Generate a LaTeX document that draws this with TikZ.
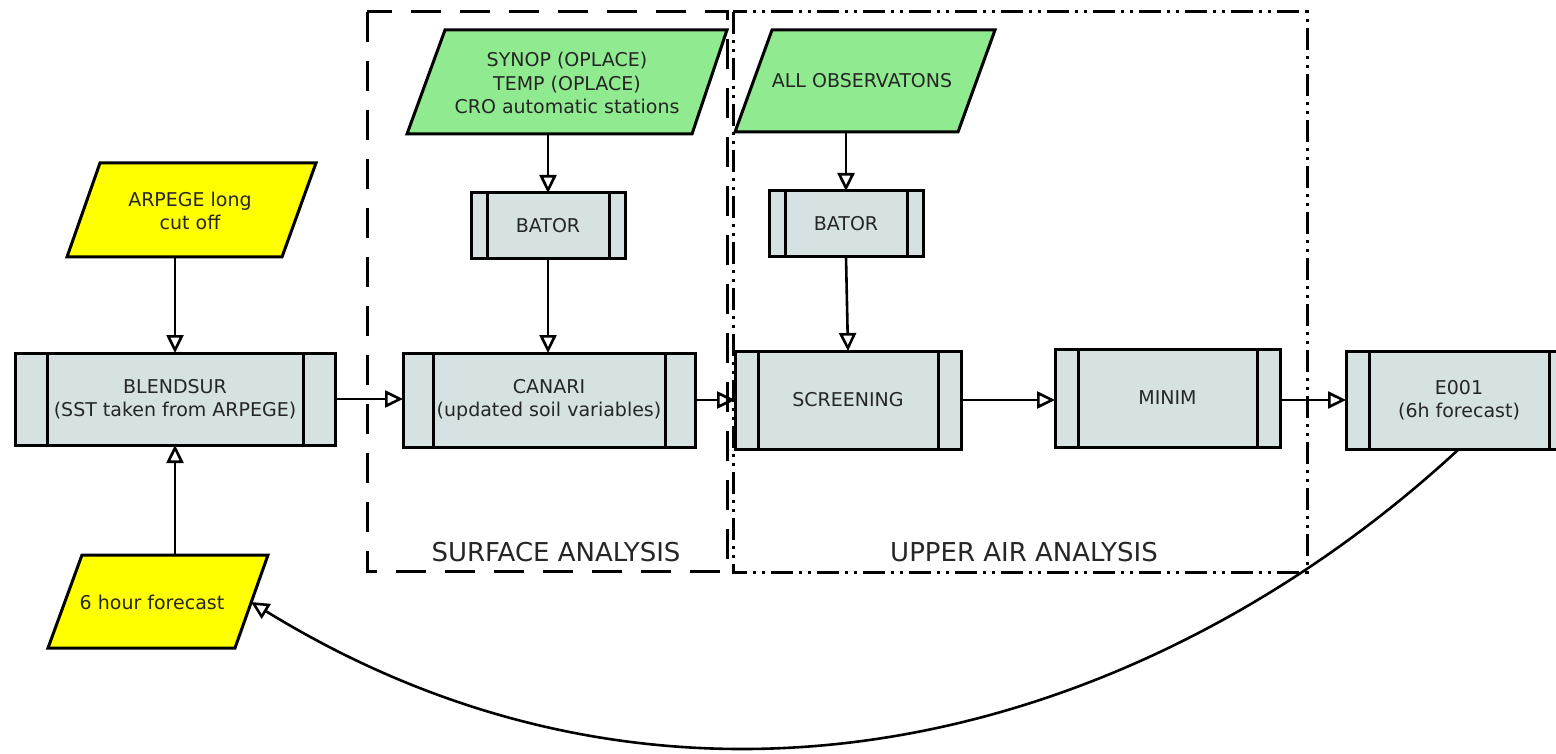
\documentclass[tikz,border=0pt]{standalone}
\usepackage{fontspec}
\setmainfont{DejaVu Sans}
\usetikzlibrary{arrows.meta}
\definecolor{procfill}{RGB}{214,225,225}
\definecolor{grn}{RGB}{144,234,144}
\definecolor{yel}{RGB}{255,255,0}
\definecolor{txtc}{RGB}{38,38,38}
\begin{document}
\begin{tikzpicture}[x=1pt,y=-1pt,
  proc/.style={draw, line width=3pt, fill=procfill, inner sep=0pt, outer sep=0pt,
    text=txtc, font=\fontsize{19}{23.5}\selectfont, align=center},
  iline/.style={line width=3pt},
  para/.style={draw, line width=3pt, line join=miter},
  ptxt/.style={text=txtc, font=\fontsize{19}{23.5}\selectfont, align=center, inner sep=0pt},
  flow/.style={line width=2.6pt, -{Triangle[open, length=18pt, width=17pt, line width=2.6pt]}},
  grplabel/.style={text=txtc, font=\fontsize{26}{30}\selectfont, inner sep=0pt},
  surfbox/.style={line width=3pt, dash pattern=on 30pt off 19pt},
  upperbox/.style={line width=3pt, dash pattern=on 22pt off 6pt on 3pt off 6pt on 3pt off 6pt},
]
\clip (0,0) rectangle (1556,754);
\fill[white] (0,0) rectangle (1556,754);

% group frames
\draw[surfbox] (367,12) rectangle (727,571);
\draw[upperbox] (733,12) rectangle (1307,572);
\node[grplabel] (surflabel) at (556,552) {SURFACE ANALYSIS};
\node[grplabel] (upperlabel) at (1024,552) {UPPER AIR ANALYSIS};

% parallelograms
\filldraw[para, fill=yel] (100,163) -- (316,163) -- (282,257) -- (67,257) -- cycle;
\node[ptxt] (arpege) at (190,211) {ARPEGE long\\ cut off};
\coordinate (arpegeB) at (175,257);

\filldraw[para, fill=yel] (82,555) -- (268,555) -- (235,648) -- (48,648) -- cycle;
\node[ptxt] (fc6) at (152,602) {6 hour forecast};
\coordinate (fc6T) at (175,555);
\coordinate (fc6R) at (251,602);

\filldraw[para, fill=grn] (445,30) -- (727,30) -- (692,134) -- (407,134) -- cycle;
\node[ptxt] (synop) at (567,83) {SYNOP (OPLACE)\\TEMP (OPLACE)\\CRO automatic stations};
\coordinate (synopB) at (548,134);

\filldraw[para, fill=grn] (772,30) -- (995,30) -- (958,132) -- (735,132) -- cycle;
\node[ptxt] (allobs) at (862,81) {ALL OBSERVATONS};
\coordinate (allobsB) at (846,132);

% processes
\node[proc, minimum width=320pt, minimum height=92pt] (blend) at (175,399) {BLENDSUR\\(SST taken from ARPEGE)};
\draw[iline] ([xshift=32pt]blend.north west) -- ([xshift=32pt]blend.south west);
\draw[iline] ([xshift=-32pt]blend.north east) -- ([xshift=-32pt]blend.south east);

\node[proc, minimum width=292pt, minimum height=94pt] (canari) at (549,400) {CANARI\\(updated soil variables)};
\draw[iline] ([xshift=30pt]canari.north west) -- ([xshift=30pt]canari.south west);
\draw[iline] ([xshift=-30pt]canari.north east) -- ([xshift=-30pt]canari.south east);

\node[proc, minimum width=154pt, minimum height=66pt] (bator1) at (548,226) {BATOR};
\draw[iline] ([xshift=16pt]bator1.north west) -- ([xshift=16pt]bator1.south west);
\draw[iline] ([xshift=-16pt]bator1.north east) -- ([xshift=-16pt]bator1.south east);

\node[proc, minimum width=154pt, minimum height=66pt] (bator2) at (846,224) {BATOR};
\draw[iline] ([xshift=16pt]bator2.north west) -- ([xshift=16pt]bator2.south west);
\draw[iline] ([xshift=-16pt]bator2.north east) -- ([xshift=-16pt]bator2.south east);

\node[proc, minimum width=226pt, minimum height=98pt] (screen) at (848,400) {SCREENING};
\draw[iline] ([xshift=23pt]screen.north west) -- ([xshift=23pt]screen.south west);
\draw[iline] ([xshift=-23pt]screen.north east) -- ([xshift=-23pt]screen.south east);

\node[proc, minimum width=225pt, minimum height=98pt] (minim) at (1167.5,398) {MINIM};
\draw[iline] ([xshift=23pt]minim.north west) -- ([xshift=23pt]minim.south west);
\draw[iline] ([xshift=-23pt]minim.north east) -- ([xshift=-23pt]minim.south east);

\node[proc, minimum width=226pt, minimum height=98pt] (e001) at (1459,400) {E001\\(6h forecast)};
\draw[iline] ([xshift=23pt]e001.north west) -- ([xshift=23pt]e001.south west);
\draw[iline] ([xshift=-23pt]e001.north east) -- ([xshift=-23pt]e001.south east);

% connectors
\draw[flow] (arpegeB) -- (blend.north);
\draw[flow] (fc6T) -- (blend.south);
\draw[flow] (blend.east) -- (blend.east -| canari.west);
\draw[flow] (synopB) -- (bator1.north);
\draw[flow] (bator1.south) -- (bator1.south |- canari.north);
\draw[flow] (canari.east) -- (canari.east -| screen.west);
\draw[flow] (allobsB) -- (bator2.north);
\draw[flow] (bator2.south) -- (screen.north);
\draw[flow] (screen.east) -- (screen.east -| minim.west);
\draw[flow] (minim.east |- screen.east) -- (screen.east -| e001.west);
\draw[flow] (e001.south) .. controls (1150,735) and (687,870) .. (fc6R);
\end{tikzpicture}
\end{document}
